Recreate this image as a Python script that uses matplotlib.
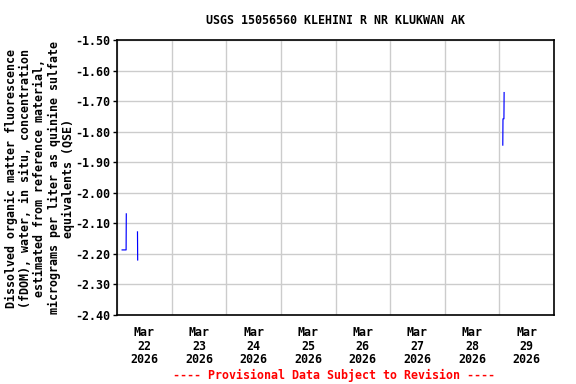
import matplotlib
matplotlib.use("Agg")
import matplotlib.pyplot as plt
import matplotlib.dates as mdates
import numpy as np
import pandas as pd

title = "USGS 15056560 KLEHINI R NR KLUKWAN AK"
ylabel = ("Dissolved organic matter fluorescence\n(fDOM), water, in situ, concentration\n"
          "estimated from reference material,\nmicrograms per liter as quinine sulfate\n"
          "equivalents (QSE)")
footer = "---- Provisional Data Subject to Revision ----"

# time series (NaN = gap in record)
times = ["2026-03-22 02:15", "2026-03-22 04:00", "2026-03-22 04:05",
         "2026-03-22 06:00",
         "2026-03-22 09:00", "2026-03-22 09:05",
         "2026-03-25 00:00",
         "2026-03-29 01:30", "2026-03-29 01:35", "2026-03-29 02:00", "2026-03-29 02:05"]
values = [-2.187, -2.187, -2.069,
          np.nan,
          -2.128, -2.22,
          np.nan,
          -1.844, -1.758, -1.758, -1.672]

yticks = [-1.50, -1.60, -1.70, -1.80, -1.90, -2.00, -2.10, -2.20, -2.30, -2.40]
xstart, xend = "2026-03-22", "2026-03-30"

t = pd.to_datetime(times)
font = "DejaVu Sans Mono"
fs = 8.4

fig = plt.figure(figsize=(5.76, 3.84), dpi=100)
ax = fig.add_axes([117/576, 1-315/384, (554-117)/576, (315-40)/384])
ax.plot(t, values, color="#0000ff", lw=0.85)

ax.set_ylim(-2.40, -1.50)
ax.set_yticks(yticks)
ax.set_yticklabels([f"{v:.2f}" for v in yticks], family=font, weight="bold", fontsize=fs)
ax.set_xlim(pd.Timestamp(xstart), pd.Timestamp(xend))
ax.xaxis.set_major_locator(mdates.DayLocator())
ax.xaxis.set_major_formatter(plt.NullFormatter())
ax.xaxis.set_minor_locator(mdates.HourLocator(byhour=[12]))
ax.xaxis.set_minor_formatter(mdates.DateFormatter("%b\n%d\n%Y"))
for lbl in ax.xaxis.get_minorticklabels():
    lbl.set_family(font); lbl.set_weight("bold"); lbl.set_fontsize(fs)
    lbl.set_linespacing(1.05)
ax.tick_params(axis="x", which="both", length=0, pad=8)
ax.tick_params(axis="y", length=3, width=1, pad=2)
ax.grid(True, which="major", color="#cccccc", lw=1)
ax.set_axisbelow(True)
for s in ax.spines.values():
    s.set_linewidth(1.2); s.set_color("black")

fig.text(335/576, 1-20/384, title, ha="center", va="center", family=font,
         weight="bold", fontsize=fs)
fig.text(40/576, 1-178/384, ylabel, ha="center", va="center", rotation=90,
         family=font, weight="bold", fontsize=fs, multialignment="center", linespacing=1.1)
fig.text(334/576, 1-375/384, footer, ha="center", va="center", family=font,
         weight="bold", fontsize=fs, color="red")

fig.savefig("out.png", dpi=100)
